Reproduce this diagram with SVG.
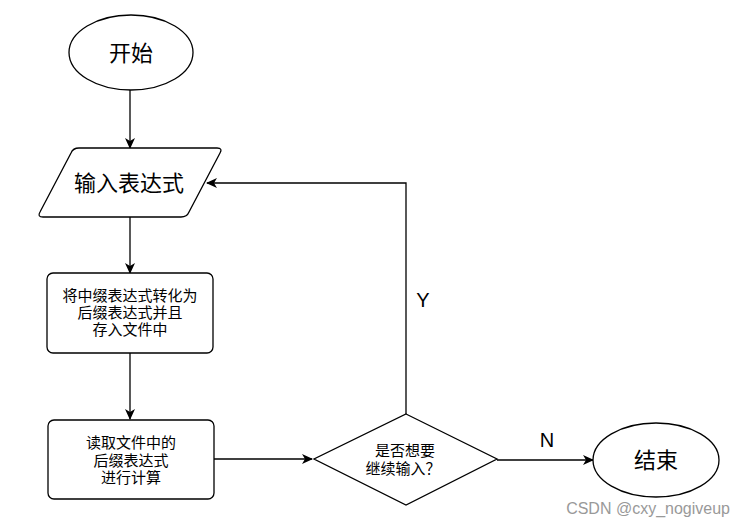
<svg xmlns="http://www.w3.org/2000/svg" width="746" height="526" viewBox="0 0 746 526">
<defs>
<marker id="ah" markerWidth="12" markerHeight="12" refX="10" refY="5" orient="auto" markerUnits="userSpaceOnUse" viewBox="0 0 12 10">
<path d="M0,0 L11,5 L0,10 L3,5 Z" fill="#000"/>
</marker>
</defs>
<style>
.s{fill:#fff;stroke:#000;stroke-width:1.3}
.c{fill:none;stroke:#000;stroke-width:1.3;marker-end:url(#ah)}
.t{font-family:"Liberation Sans","Noto Sans CJK SC",sans-serif;fill:#000;text-anchor:middle;dominant-baseline:central}
.big{font-size:22px}
.sm{font-size:15px}
.lab{font-size:20px}
</style>
<rect width="746" height="526" fill="#fff"/>
<g id="connectors">
<line class="c" x1="130" y1="90" x2="130" y2="148"/>
<line class="c" x1="130" y1="217" x2="130" y2="273"/>
<line class="c" x1="130" y1="353" x2="130" y2="419"/>
<line class="c" x1="214" y1="459" x2="312" y2="459"/>
<line class="c" x1="497" y1="460" x2="593" y2="460"/>
<polyline class="c" points="406,414 406,183 207,183"/>
<text class="t lab" x="547" y="440">N</text>
<text class="t lab" x="423" y="300">Y</text>
</g>
<g id="start">
<ellipse class="s" cx="131" cy="52.5" rx="62" ry="37.5"/>
<text class="t big" x="131" y="53">开始</text>
</g>
<g id="input">
<path class="s" d="M79,148 L217,148 Q223,148 220,153 L189,212 Q187,217 181,217 L43,217 Q37,217 40,212 L71,153 Q73,148 79,148 Z"/>
<text class="t big" x="129" y="183">输入表达式</text>
</g>
<g id="convert">
<rect class="s" x="47" y="273" width="166" height="80" rx="6"/>
<text class="t sm" x="130" y="295">将中缀表达式转化为</text>
<text class="t sm" x="130" y="312">后缀表达式并且</text>
<text class="t sm" x="130" y="329">存入文件中</text>
</g>
<g id="compute">
<rect class="s" x="48" y="420" width="166" height="79" rx="6"/>
<text class="t sm" x="131" y="442">读取文件中的</text>
<text class="t sm" x="131" y="460">后缀表达式</text>
<text class="t sm" x="131" y="477">进行计算</text>
</g>
<g id="decision">
<polygon class="s" points="406,414 497,459 406,505 314,459"/>
<text class="t sm" x="405" y="450">是否想要</text>
<text class="t sm" x="403" y="468">继续输入？</text>
</g>
<g id="end">
<ellipse class="s" cx="656" cy="460" rx="63" ry="37"/>
<text class="t big" x="656" y="460">结束</text>
</g>
<text x="730" y="508" font-family="Liberation Sans,sans-serif" font-size="16" fill="#999" text-anchor="end" dominant-baseline="central">CSDN @cxy_nogiveup</text>
</svg>
